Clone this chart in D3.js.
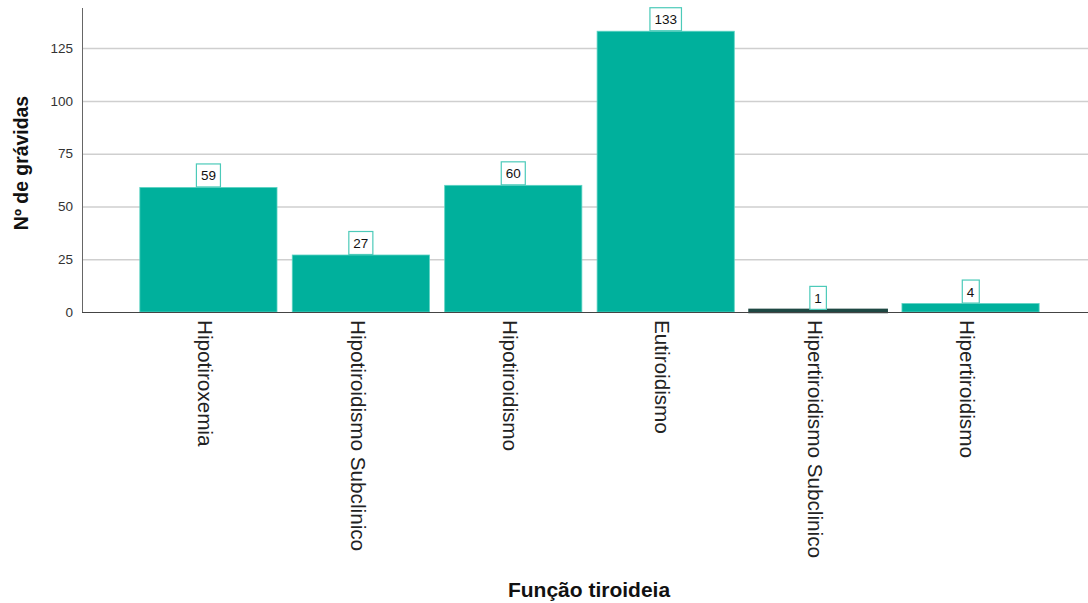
<!DOCTYPE html>
<html>
<head>
<meta charset="utf-8">
<script src="https://cdn.jsdelivr.net/npm/d3@7"></script>
<style>
  html, body { margin: 0; padding: 0; background: #fff; }
  svg { display: block; font-family: "Liberation Sans", Arial, sans-serif; }
</style>
</head>
<body>
<svg id="chart" width="1088" height="603"></svg>
<script>
// Thyroid function categories and number of pregnant women in each
const categories = [
  "Hipotiroxemia",
  "Hipotiroidismo Subclinico",
  "Hipotiroidismo",
  "Eutiroidismo",
  "Hipertiroidismo Subclinico",
  "Hipertiroidismo"
];
const counts = [59, 27, 60, 133, 1, 4];
const yTicks = [0, 25, 50, 75, 100, 125];
const yTitle = "Nº de grávidas";
const xTitle = "Função tiroideia";

const svg = d3.select("#chart");
const plotLeft = 82, plotRight = 1088, plotTop = 8, plotBottom = 312;

const x = d3.scaleBand()
  .domain(categories)
  .range([plotLeft, plotRight])
  .paddingInner(0.1)
  .paddingOuter(0.35)
  .align(0.542);

const y = d3.scaleLinear()
  .domain([0, 144])
  .range([plotBottom, plotTop]);

const teal = "#00b09c";

// Horizontal gridlines
svg.append("g")
  .selectAll("line")
  .data(yTicks.filter(d => d > 0))
  .join("line")
  .attr("x1", plotLeft).attr("x2", plotRight)
  .attr("y1", d => y(d) + 0.5).attr("y2", d => y(d) + 0.5)
  .attr("stroke", "#cfcfcf")
  .attr("stroke-width", 1.5);

// Y axis with labels only
const yAxis = svg.append("g")
  .attr("transform", `translate(${plotLeft},0)`)
  .call(d3.axisLeft(y).tickValues(yTicks).tickSize(0).tickPadding(9));
yAxis.select(".domain").remove();
yAxis.selectAll("text")
  .attr("font-size", 13.5)
  .attr("fill", "#333")
  .attr("font-family", "Liberation Sans, Arial, sans-serif");

// Bars
svg.append("g")
  .selectAll("rect")
  .data(categories)
  .join("rect")
  .attr("x", d => x(d))
  .attr("width", x.bandwidth())
  .attr("y", (d, i) => y(counts[i]))
  .attr("height", (d, i) => plotBottom - y(counts[i]))
  .attr("fill", teal)
  .attr("stroke", (d, i) => (plotBottom - y(counts[i]) < 4 ? "#1e4843" : "#5cd3c3"))
  .attr("stroke-width", (d, i) => (plotBottom - y(counts[i]) < 4 ? 2.5 : 0.8));

// Axis lines
svg.append("line")
  .attr("x1", plotLeft + 0.5).attr("x2", plotLeft + 0.5)
  .attr("y1", plotTop).attr("y2", plotBottom + 1)
  .attr("stroke", "#666").attr("stroke-width", 1);
svg.append("line")
  .attr("x1", plotLeft).attr("x2", plotRight)
  .attr("y1", plotBottom + 0.5).attr("y2", plotBottom + 0.5)
  .attr("stroke", "#444").attr("stroke-width", 1.2);

// Value labels in outlined boxes
const labels = svg.append("g")
  .selectAll("g")
  .data(categories)
  .join("g")
  .attr("transform", (d, i) => `translate(${x(d) + x.bandwidth() / 2},${y(counts[i])})`);
labels.append("text")
  .text((d, i) => counts[i])
  .attr("text-anchor", "middle")
  .attr("y", -7)
  .attr("font-size", 13.5)
  .attr("fill", "#111");
labels.each(function () {
  const g = d3.select(this);
  const bb = g.select("text").node().getBBox();
  g.insert("rect", "text")
    .attr("x", bb.x - 4.5)
    .attr("width", bb.width + 9)
    .attr("y", -23.5)
    .attr("height", 23)
    .attr("fill", "#fff")
    .attr("stroke", "#4ccab9")
    .attr("stroke-width", 1.2);
});

// Rotated category labels
svg.append("g")
  .selectAll("text")
  .data(categories)
  .join("text")
  .attr("transform", d => `translate(${x(d) + x.bandwidth() / 2 - 3},${plotBottom + 8}) rotate(90)`)
  .attr("dy", "0.35em")
  .attr("font-size", 20.7)
  .attr("fill", "#222")
  .text(d => d);

// Axis titles
svg.append("text")
  .attr("transform", `translate(28,${(plotTop + plotBottom) / 2 + 3}) rotate(-90)`)
  .attr("text-anchor", "middle")
  .attr("font-size", 19.4)
  .attr("font-weight", "bold")
  .attr("fill", "#111")
  .text(yTitle);

svg.append("text")
  .attr("x", (plotLeft + plotRight) / 2 + 4)
  .attr("y", 597)
  .attr("text-anchor", "middle")
  .attr("font-size", 21)
  .attr("font-weight", "bold")
  .attr("fill", "#111")
  .text(xTitle);
</script>
</body>
</html>
